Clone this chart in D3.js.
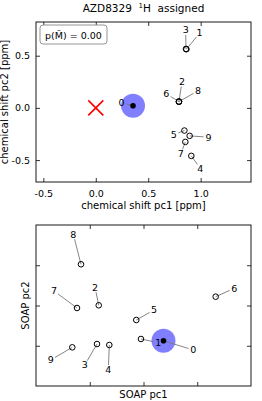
<!DOCTYPE html>
<html><head><meta charset="utf-8">
<script src="https://cdn.jsdelivr.net/npm/d3@7"></script>
<style>body{margin:0;background:#fff}svg{display:block}text{font-family:"DejaVu Sans",sans-serif;fill:#000;white-space:pre}</style>
</head><body><svg id="c" width="262" height="401"></svg>
<script>
// ---- data ----
const labels = ["0","1","2","3","4","5","6","7","8","9"];
// top panel: chemical shift PCA (ppm)
const csX = [0.355, 0.864, 0.793, 0.860, 0.911, 0.845, 0.793, 0.854, 0.793, 0.895];
const csY = [0.020, 0.562, 0.060, 0.565, -0.460, -0.217, 0.060, -0.326, 0.060, -0.268];
const csLabelX = [0.245, 0.990, 0.822, 0.857, 0.997, 0.743, 0.673, 0.810, 0.974, 1.076];
const csLabelY = [0.051, 0.716, 0.252, 0.747, -0.581, -0.256, 0.134, -0.443, 0.163, -0.281];
const csRef = [0.0, 0.0];
const csTicksX = [-0.5, 0.0, 0.5, 1.0];
const csTicksY = [-0.5, 0.0, 0.5];
const pText = "p(M\u0303) = 0.00";
// bottom panel: SOAP PCA (arbitrary units)
const soapX = [2.372, 1.953, 1.167, 1.135, 1.364, 1.866, 3.343, 0.763, 0.837, 0.675];
const soapY = [1.123, 1.168, 2.005, 1.043, 1.019, 1.640, 2.219, 1.938, 3.024, 0.961];
const soapLabelX = [2.927, 2.275, 1.098, 0.906, 1.345, 2.195, 3.689, 0.335, 0.694, 0.273];
const soapLabelY = [0.894, 1.076, 2.452, 0.522, 0.398, 1.888, 2.427, 2.360, 3.769, 0.646];
const soapTicks = [1, 2, 3];
const highlight = 0;

const svg = d3.select("#c");
const FS = 9.5;
const LFS = 10;

svg.append("text").attr("x", 143.5).attr("y", 12).attr("text-anchor","middle")
  .attr("font-size", 10.5).attr("xml:space","preserve")
  .html('AZD8329  <tspan font-size="7" dy="-4">1</tspan><tspan dy="4">H  assigned</tspan>');

const fmt = v => d3.format(".1f")(v).replace("\u2212","-");

function panel(cfg){
  const g = svg.append("g");
  const x = d3.scaleLinear().domain(cfg.xd).range([36, 251]);
  const y = d3.scaleLinear().domain(cfg.yd).range([cfg.bottom, cfg.top]);
  const tick = 4;
  const axB = d3.axisBottom(x).tickValues(cfg.tx).tickSizeInner(-tick).tickSizeOuter(0)
      .tickFormat(cfg.showLabels ? fmt : () => "").tickPadding(8);
  const axT = d3.axisTop(x).tickValues(cfg.tx).tickSizeInner(-tick).tickSizeOuter(0).tickFormat(()=>"");
  const axL = d3.axisLeft(y).tickValues(cfg.ty).tickSizeInner(-tick).tickSizeOuter(0)
      .tickFormat(cfg.showLabels ? fmt : () => "").tickPadding(6);
  const axR = d3.axisRight(y).tickValues(cfg.ty).tickSizeInner(-tick).tickSizeOuter(0).tickFormat(()=>"");
  g.append("g").attr("transform",`translate(0,${cfg.bottom})`).call(axB);
  g.append("g").attr("transform",`translate(0,${cfg.top})`).call(axT);
  g.append("g").attr("transform",`translate(36,0)`).call(axL);
  g.append("g").attr("transform",`translate(251,0)`).call(axR);
  g.selectAll(".domain").remove();
  g.selectAll(".tick line").attr("stroke","#000").attr("stroke-width",0.8);
  g.selectAll(".tick text").attr("font-size",FS).attr("font-family","DejaVu Sans").attr("fill","#000");
  g.append("rect").attr("x",36).attr("y",cfg.top).attr("width",215).attr("height",cfg.bottom-cfg.top)
    .attr("fill","none").attr("stroke","#000").attr("stroke-width",0.9);

  const pts = d3.range(labels.length);
  const hx = cfg.px[highlight], hy = cfg.py[highlight];
  g.append("circle").attr("cx",x(hx)).attr("cy",y(hy)).attr("r",12).attr("fill","#7f7fff");

  if (cfg.ref){
    const cx = x(cfg.ref[0]), cy = y(cfg.ref[1]), s = 7.5;
    g.append("path").attr("d",`M${cx-s},${cy-s}L${cx+s},${cy+s}M${cx-s},${cy+s}L${cx+s},${cy-s}`)
      .attr("stroke","#ff0000").attr("stroke-width",1.6);
  }
  // leader lines
  pts.forEach(i=>{
    const x0=x(cfg.px[i]), y0=y(cfg.py[i]), x1=x(cfg.lx[i]), y1=y(cfg.ly[i]);
    const dx=x1-x0, dy=y1-y0, d=Math.hypot(dx,dy)||1;
    const cut = Math.min(5, d*0.5);
    g.append("line").attr("x1",x0).attr("y1",y0).attr("x2",x1-dx/d*cut).attr("y2",y1-dy/d*cut)
      .attr("stroke","#777").attr("stroke-width",0.9);
  });
  pts.forEach(i=>{
    if (i===highlight) return;
    g.append("circle").attr("cx",x(cfg.px[i])).attr("cy",y(cfg.py[i])).attr("r",2.8)
      .attr("fill","none").attr("stroke","#000").attr("stroke-width",1);
  });
  g.append("circle").attr("cx",x(hx)).attr("cy",y(hy)).attr("r",2.8).attr("fill","#000");
  pts.forEach(i=>{
    g.append("text").attr("x",x(cfg.lx[i])).attr("y",y(cfg.ly[i])).attr("dy","0.35em")
      .attr("text-anchor","middle").attr("font-size",FS).text(labels[i]);
  });
  // axis labels
  g.append("text").attr("x",143.5).attr("y",cfg.xlabY).attr("text-anchor","middle")
    .attr("font-size",LFS).text(cfg.xlab);
  g.append("text").attr("transform",`translate(${cfg.ylabX},${(cfg.top+cfg.bottom)/2}) rotate(-90)`)
    .attr("text-anchor","middle").attr("font-size",LFS).text(cfg.ylab);
  return {g,x,y};
}

const topPanel = panel({xd:[-0.57,1.48], yd:[-0.71,0.823], top:22, bottom:182, tx:csTicksX, ty:csTicksY,
  showLabels:true, px:csX, py:csY, lx:csLabelX, ly:csLabelY, ref:csRef,
  xlab:"chemical shift pc1 [ppm]", xlabY:209, ylab:"chemical shift pc2 [ppm]", ylabX:8});

topPanel.g.append("rect").attr("x",40).attr("y",25).attr("width",67).attr("height",19).attr("rx",3)
  .attr("fill","#fff").attr("stroke","#888").attr("stroke-width",0.9);
topPanel.g.append("text").attr("x",73.5).attr("y",35.5).attr("dy","0.35em").attr("text-anchor","middle")
  .attr("font-size",FS).text(pText);

panel({xd:[0,4], yd:[0,4], top:225, bottom:386, tx:soapTicks, ty:soapTicks,
  showLabels:false, px:soapX, py:soapY, lx:soapLabelX, ly:soapLabelY, ref:null,
  xlab:"SOAP pc1", xlabY:398, ylab:"SOAP pc2", ylabX:29});
</script></body></html>
